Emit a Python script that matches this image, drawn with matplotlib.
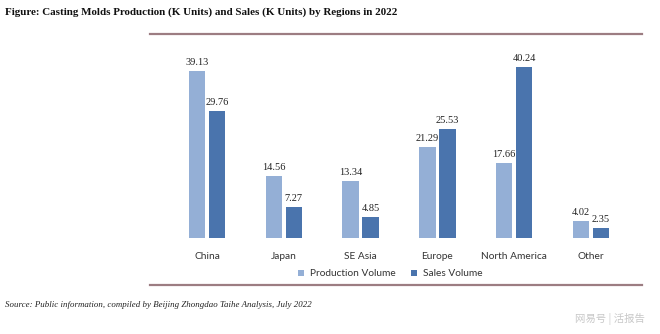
import matplotlib.pyplot as plt
import matplotlib.transforms as mtransforms
import numpy as np

# data
regions = ["China", "Japan", "SE Asia", "Europe", "North America", "Other"]
production = [39.13, 14.56, 13.34, 21.29, 17.66, 4.02]
sales = [29.76, 7.27, 4.85, 25.53, 40.24, 2.35]

PROD_CLR = "#94afd6"
SALES_CLR = "#4a74ad"
RULE_CLR = "#9c7d82"
SERIF = ["Liberation Serif", "DejaVu Serif"]
SANS = ["Lato", "DejaVu Sans"]

W, H = 660, 334
fig = plt.figure(figsize=(W / 100, H / 100), dpi=100)
fig.patch.set_facecolor("white")

# axes spanning the two horizontal rules (px 150..642, 34..285)
ax = fig.add_axes([150 / W, (H - 285) / H, (642 - 150) / W, (285 - 34) / H])
ax.set_xlim(-0.742, 5.664)
ax.set_ylim(-11.05, 47.94)

x = np.arange(len(regions))
bw = 0.215
off = 0.13
ax.bar(x - off, production, bw, color=PROD_CLR, label="Production Volume")
ax.bar(x + off, sales, bw, color=SALES_CLR, label="Sales Volume")

for xi, p, s in zip(x, production, sales):
    ax.text(xi - off, p + 1.0, f"{p:.2f}", ha="center", va="bottom",
            fontsize=7.5, family=SERIF, color="#222222")
    ax.text(xi + off, s + 1.0, f"{s:.2f}", ha="center", va="bottom",
            fontsize=7.5, family=SERIF, color="#222222")

trans = mtransforms.blended_transform_factory(ax.transData, ax.transAxes)
for xi, name in zip(x, regions):
    ax.text(xi, 0.112, name, transform=trans, ha="center", va="center",
            fontsize=7.3, family=SANS, color="#333333")

# rules
for sp in ["left", "right"]:
    ax.spines[sp].set_visible(False)
for sp in ["top", "bottom"]:
    ax.spines[sp].set_color(RULE_CLR)
    ax.spines[sp].set_linewidth(1.6)
ax.set_xticks([])
ax.set_yticks([])

leg = ax.legend(loc="center", bbox_to_anchor=(390 / W, (H - 274) / H),
                bbox_transform=fig.transFigure, ncol=2, frameon=False,
                prop={"family": SANS, "size": 7.3}, handlelength=0.6,
                handleheight=0.6, columnspacing=1.5, handletextpad=0.6)
for t in leg.get_texts():
    t.set_color("#333333")

fig.text(5 / W, 1 - 12 / H, "Figure: Casting Molds Production (K Units) and Sales (K Units) by Regions in 2022",
         ha="left", va="center", fontsize=7.9, fontweight="bold", family=SERIF, color="#111111")
fig.text(5 / W, 1 - 305 / H, "Source: Public information, compiled by Beijing Zhongdao Taihe Analysis, July 2022",
         ha="left", va="center", fontsize=6.4, style="italic", family=SERIF, color="#222222")
fig.text(645 / W, 1 - 319 / H, "网易号 | 活报告", ha="right", va="center",
         fontsize=7.5, family=["Noto Sans CJK SC", "DejaVu Sans"], color="#c8c8c8")

fig.savefig("out.png", dpi=100, facecolor="white")
